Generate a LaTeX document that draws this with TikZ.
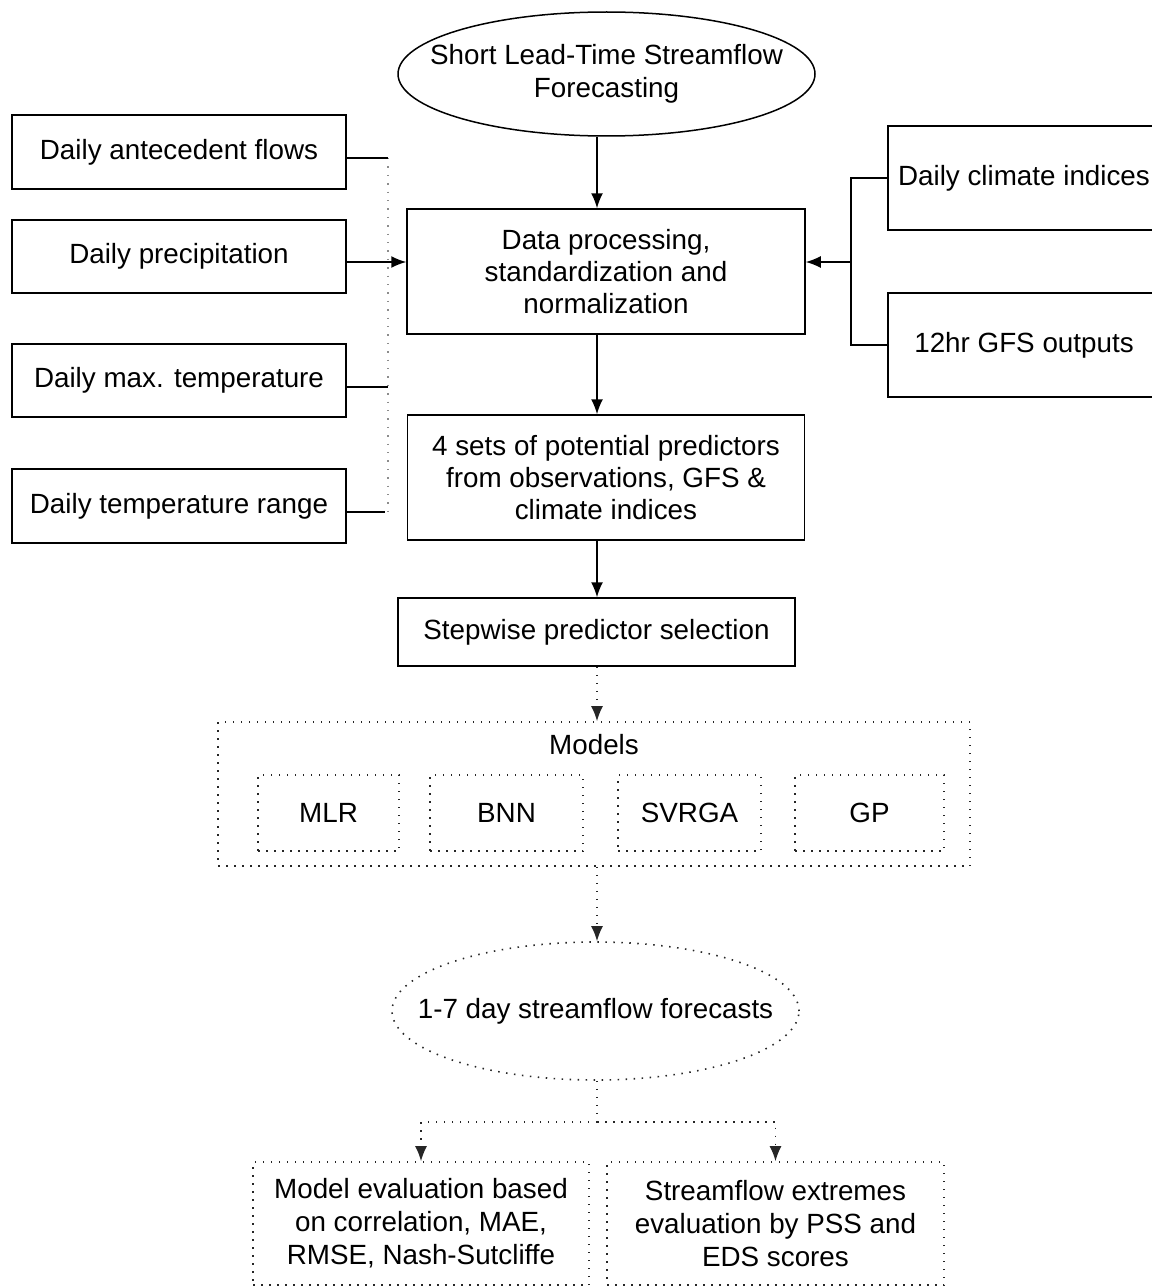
\documentclass[tikz,border=0pt]{standalone}
\usepackage{fontspec}
\setmainfont{Liberation Sans}
\usetikzlibrary{arrows.meta,shapes.geometric,calc}
\begin{document}
\begin{tikzpicture}[x=1pt,y=-1pt,
  every node/.style={font=\fontsize{27.8}{32}\selectfont, align=center, inner sep=0pt},
  box/.style={draw, line width=1.5pt, rectangle},
  dbox/.style={draw=black!85, line width=1.6pt, dash pattern=on 1.5pt off 6.5pt, rectangle},
  oval/.style={draw, line width=1.5pt, ellipse},
  doval/.style={draw=black!85, line width=1.6pt, dash pattern=on 1.5pt off 6.5pt, ellipse},
  conn/.style={line width=1.5pt},
  arr/.style={-{Latex[length=15pt,width=12pt]}, line width=1.5pt},
  darr/.style={-{Latex[length=15pt,width=12pt]}, line width=1.6pt, draw=black!85, dash pattern=on 1.5pt off 6.5pt},
  gdot/.style={line width=1.4pt, draw=black!45, dash pattern=on 1.4pt off 7pt},
  inlabel/.style={label={[align=center, font=\fontsize{27.8}{33}\selectfont]center:{#1}}},
]
\useasboundingbox (0,0) rectangle (1151,1287);

% top ellipse
\node[oval, minimum width=417pt, minimum height=124pt, inlabel={Short Lead-Time Streamflow\\Forecasting}] (top) at (606.5,74) {};

% central column
\node[box, minimum width=398pt, minimum height=125pt] (data) at (606,271.5) {Data processing,\\standardization and\\normalization};
\node[box, minimum width=397pt, minimum height=125pt] (pred) at (606,477.5) {4 sets of potential predictors\\from observations, GFS \&\\climate indices};
\node[box, minimum width=397pt, minimum height=68pt] (step) at (596.5,632) {Stepwise predictor selection};

% left inputs
\node[box, minimum width=334pt, minimum height=74pt] (l1) at (179,152) {Daily antecedent flows};
\node[box, minimum width=334pt, minimum height=73pt] (l2) at (179,256.5) {Daily precipitation};
\node[box, minimum width=334pt, minimum height=73pt] (l3) at (179,380.5) {Daily max. temperature};
\node[box, minimum width=334pt, minimum height=74pt] (l4) at (179,506) {Daily temperature range};

% right inputs
\node[box, minimum width=272pt, minimum height=104pt] (r1) at (1024,178) {Daily climate indices};
\node[box, minimum width=272pt, minimum height=104pt] (r2) at (1024,345) {12hr GFS outputs};

% models group
\node[dbox, minimum width=752pt, minimum height=144pt] (models) at (594,794) {};
\node (mlabel) at (594,745) {Models};
\node[dbox, minimum width=141pt, minimum height=76pt] (mlr) at (328.5,813) {MLR};
\node[dbox, minimum width=153pt, minimum height=76pt] (bnn) at (506.5,813) {BNN};
\node[dbox, minimum width=143pt, minimum height=76pt] (svr) at (689.5,813) {SVRGA};
\node[dbox, minimum width=149pt, minimum height=76pt] (gp) at (869.5,813) {GP};

% forecasts ellipse
\node[doval, minimum width=407pt, minimum height=138pt, inlabel={1-7 day streamflow forecasts}] (fc) at (595.5,1011) {};

% evaluation boxes
\node[dbox, minimum width=336pt, minimum height=123pt, font=\fontsize{27.8}{33}\selectfont] (ev1) at (421,1223.5) {Model evaluation based\\on correlation, MAE,\\RMSE, Nash-Sutcliffe};
\node[dbox, minimum width=337pt, minimum height=123pt, font=\fontsize{27.8}{33}\selectfont] (ev2) at (775.5,1223.5) {Streamflow extremes\\evaluation by PSS and\\EDS scores};

% helper coordinates
\coordinate (ax) at (597,0);
\coordinate (lj) at (388,0);
\coordinate (rj) at (851,0);
\coordinate (split) at (597,1122);

% central arrows
\draw[arr] (top.south -| ax) -- (data.north -| ax);
\draw[arr] (data.south -| ax) -- (pred.north -| ax);
\draw[arr] (pred.south -| ax) -- (step.north -| ax);
\draw[darr] (step.south -| ax) -- (models.north -| ax);
\draw[darr] (models.south -| ax) -- (fc.north -| ax);

% left connectors
\draw[gdot] ([yshift=-6pt]l1.east -| lj) -- ([yshift=-6pt]l4.east -| lj);
\draw[conn] ([yshift=-6pt]l1.east) -- ([yshift=-6pt]l1.east -| lj);
\draw[arr] ([yshift=-5.5pt]l2.east) -- ([yshift=-5.5pt]l2.east -| data.west);
\draw[conn] ([yshift=-6.5pt]l3.east) -- ([yshift=-6.5pt]l3.east -| lj);
\draw[conn] ([yshift=-6pt]l4.east) -- ([xshift=-3pt,yshift=-6pt]l4.east -| lj);

% right connectors
\draw[conn] (r1.west) -| (r1.west -| rj) -- (r2.west -| rj) -- (r2.west);
\draw[arr] ([yshift=9.5pt]data.east -| rj) -- ([yshift=9.5pt]data.east);

% bottom split
\draw[darr, -] (fc.south -| ax) -- (split);
\draw[darr] (split) -| (ev1.north);
\draw[darr] (split) -| (ev2.north);
\end{tikzpicture}
\end{document}
